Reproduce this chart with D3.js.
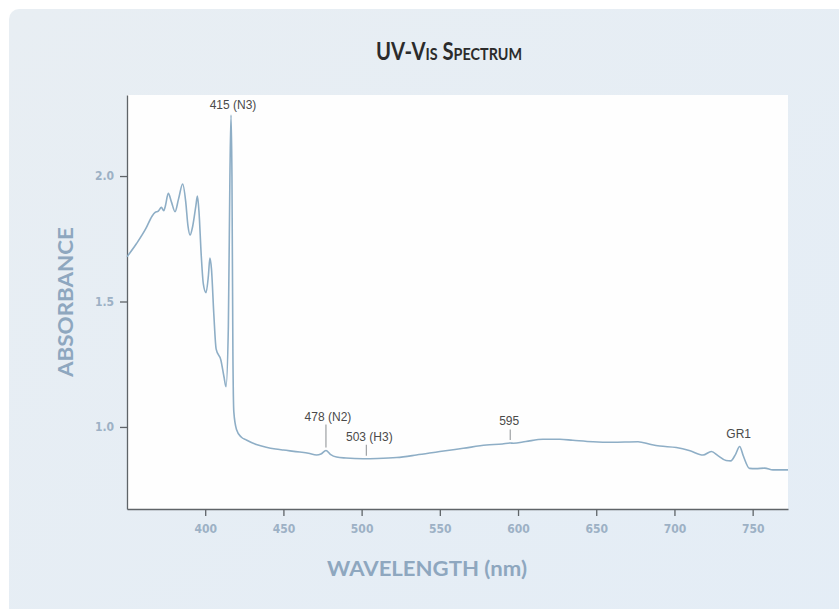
<!DOCTYPE html>
<html lang="en">
<head>
    <meta charset="UTF-8">
    <title>UV-Vis Spectrum</title>
    <script src="https://d3js.org/d3.v7.min.js"></script>
    <style>
        body {
            margin: 0;
            background-color: #ffffff;
        }
        svg {
            display: block;
        }
        .tick text {
            font-family: "Liberation Sans Narrow", "DejaVu Sans Condensed", sans-serif;
            font-weight: bold;
            font-size: 12px;
            fill: #9db1c5;
        }
        .tick line, .domain {
            stroke: #5f6468;
            stroke-width: 1.3;
        }
    </style>
</head>
<body>

<svg width="839" height="609"></svg>
<script>
    // spectrum
    const wavelength = [
        350, 356, 362, 366, 368, 370, 372, 373.5, 374.5, 376.4, 378.5, 380.7, 383, 385.6, 387.5,
        389, 390.3, 392, 394, 395, 396, 397.5, 398.8, 400.5, 402, 403, 404, 405.5, 407, 410,
        412, 413.3, 414.8, 415.8, 416.5, 417.1, 417.7, 418.3, 420, 423, 426.3, 432.7, 439, 445,
        450, 460.5, 466, 471.2, 474, 477.2, 480, 484, 490, 501, 510, 522.4, 535, 550, 565,
        579.8, 590, 595, 597, 605, 616, 626.7, 635, 648, 660, 676.7, 685, 690.6, 701.2, 710,
        718.3, 723.6, 728, 733, 736, 739, 741.7, 744, 748, 752, 757.7, 763, 772.6
    ];
    const absorbance = [
        1.678, 1.73, 1.79, 1.84, 1.855, 1.86, 1.875, 1.862, 1.88, 1.931, 1.895, 1.858, 1.91, 1.968, 1.9,
        1.80, 1.765, 1.80, 1.88, 1.92, 1.86, 1.68, 1.57, 1.535, 1.60, 1.673, 1.63, 1.45, 1.31, 1.267,
        1.20, 1.16, 1.40, 2.0, 2.243, 2.0, 1.3, 1.06, 0.99, 0.96, 0.948, 0.93, 0.919, 0.912,
        0.908, 0.90, 0.895, 0.888, 0.892, 0.906, 0.891, 0.880, 0.876, 0.873, 0.874, 0.878, 0.888, 0.902, 0.915,
        0.928, 0.932, 0.936, 0.935, 0.942, 0.951, 0.951, 0.947, 0.941, 0.939, 0.941, 0.93, 0.924, 0.918, 0.905,
        0.888, 0.902, 0.885, 0.866, 0.865, 0.89, 0.922, 0.885, 0.835, 0.834, 0.836, 0.829, 0.829
    ];

    const xTicks = [400, 450, 500, 550, 600, 650, 700, 750];
    const yTicks = [1.0, 1.5, 2.0];

    const peakNames = ["415 (N3)", "478 (N2)", "503 (H3)", "595", "GR1"];
    const peakWavelengths = [416.5, 477.2, 503, 595, 741.7];

    const width = 839;
    const height = 609;
    const margin = {top: 95, right: 51, bottom: 100, left: 127};

    const x = d3.scaleLinear()
        .domain([350, 772.6])
        .range([margin.left, width - margin.right]);

    const y = d3.scaleLinear()
        .domain([0.673, 2.323])
        .range([height - margin.bottom, margin.top]);

    const svg = d3.select("svg");

    // light panel behind the chart
    const grad = svg.append("defs").append("linearGradient")
        .attr("id", "panel")
        .attr("x1", 0).attr("y1", 0).attr("x2", 1).attr("y2", 1);
    grad.append("stop").attr("offset", 0).attr("stop-color", "#e8eef3");
    grad.append("stop").attr("offset", 1).attr("stop-color", "#e4edf6");

    svg.append("rect")
        .attr("x", 9).attr("y", 9)
        .attr("width", width + 20).attr("height", height + 20)
        .attr("rx", 10)
        .attr("fill", "url(#panel)");

    svg.append("rect")
        .attr("x", margin.left).attr("y", margin.top)
        .attr("width", width - margin.right - margin.left)
        .attr("height", height - margin.bottom - margin.top)
        .attr("fill", "#fefefe");

    // title with small caps
    svg.append("text")
        .attr("x", 449)
        .attr("y", 60)
        .attr("text-anchor", "middle")
        .attr("textLength", 146)
        .attr("lengthAdjust", "spacingAndGlyphs")
        .style("font-family", "Lato, 'Open Sans', sans-serif")
        .style("font-weight", "bold")
        .style("font-size", "24px")
        .style("font-variant", "small-caps")
        .attr("fill", "#2b2b2b")
        .text("UV-Vis Spectrum");

    // axes
    svg.append("g")
        .attr("class", "x-axis")
        .attr("transform", `translate(0,${height - margin.bottom})`)
        .call(d3.axisBottom(x).tickValues(xTicks).tickSize(7).tickSizeOuter(0).tickPadding(8).tickFormat(d3.format("d")));

    svg.append("g")
        .attr("class", "y-axis")
        .attr("transform", `translate(${margin.left},0)`)
        .call(d3.axisLeft(y).tickValues(yTicks).tickSize(7).tickSizeOuter(0).tickPadding(6).tickFormat(d3.format(".1f")));

    svg.append("text")
        .attr("x", 427)
        .attr("y", 576)
        .attr("text-anchor", "middle")
        .attr("textLength", 200)
        .attr("lengthAdjust", "spacingAndGlyphs")
        .style("font-family", "Lato, 'Open Sans', sans-serif")
        .style("font-weight", "bold")
        .style("font-size", "20px")
        .attr("fill", "#8ea7bf")
        .text("WAVELENGTH (nm)");

    svg.append("text")
        .attr("transform", "translate(73,302) rotate(-90)")
        .attr("text-anchor", "middle")
        .attr("textLength", 150)
        .attr("lengthAdjust", "spacingAndGlyphs")
        .style("font-family", "Lato, 'Open Sans', sans-serif")
        .style("font-weight", "bold")
        .style("font-size", "20px")
        .attr("fill", "#8ea7bf")
        .text("ABSORBANCE");

    // spectrum line
    const points = wavelength.map((w, i) => [w, absorbance[i]]);

    const line = d3.line()
        .x(d => x(d[0]))
        .y(d => y(d[1]))
        .curve(d3.curveMonotoneX);

    svg.append("path")
        .datum(points)
        .attr("fill", "none")
        .attr("stroke", "#8eaec6")
        .attr("stroke-width", 1.6)
        .attr("stroke-linejoin", "round")
        .attr("d", line);

    // peak labels: marker length and label offset per peak
    const markLen = [0, 23, 11, 10.5, 0];
    const labelDx = [2, 2, 3, -1, -1];
    const labelGap = [3, 3.5, 3.5, 5, 6];

    const absAt = w => {
        const i = d3.bisector(d => d).left(wavelength, w);
        if (i <= 0) return absorbance[0];
        const t = (w - wavelength[i - 1]) / (wavelength[i] - wavelength[i - 1]);
        return absorbance[i - 1] + t * (absorbance[i] - absorbance[i - 1]);
    };

    const peaks = svg.append("g")
        .selectAll("g")
        .data(peakNames.map((name, i) => ({name, w: peakWavelengths[i], i})))
        .join("g");

    peaks.filter(d => markLen[d.i] > 0)
        .append("line")
        .attr("x1", d => x(d.w)).attr("x2", d => x(d.w))
        .attr("y1", d => y(absAt(d.w)) - 3)
        .attr("y2", d => y(absAt(d.w)) - 3 - markLen[d.i])
        .attr("stroke", "#7e8286")
        .attr("stroke-width", 0.9);

    peaks.append("text")
        .attr("x", d => x(d.w) + labelDx[d.i])
        .attr("y", d => y(absAt(d.w)) - 3 - markLen[d.i] - labelGap[d.i])
        .attr("text-anchor", "middle")
        .style("font-family", "'Liberation Sans', Arial, sans-serif")
        .style("font-size", "12px")
        .attr("fill", "#4a4a4a")
        .text(d => d.name);
</script>
</body>
</html>
